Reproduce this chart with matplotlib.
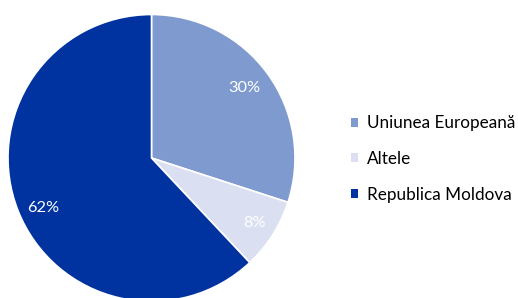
import matplotlib
matplotlib.use("Agg")
import matplotlib.pyplot as plt
import numpy as np

categories = ["Uniunea Europeană", "Altele", "Republica Moldova"]
values = [30, 8, 62]
colors = ["#7f9acf", "#dae0f1", "#0033a0"]

plt.rcParams['font.family'] = ['Lato', 'DejaVu Sans']

W, H = 518, 298
fig = plt.figure(figsize=(W / 100, H / 100), dpi=100)
cx, cy, r = 151.5, 158.0, 143.5
ax = fig.add_axes([(cx - r) / W, (H - cy - r) / H, 2 * r / W, 2 * r / H])

wedges, texts, autotexts = ax.pie(
    values, colors=colors, startangle=90, counterclock=False,
    autopct=lambda p: f"{p:.0f}%", pctdistance=0.82,
    wedgeprops=dict(edgecolor="white", linewidth=1.2),
    textprops=dict(color="white", fontsize=11.8),
)
# fine-tune label placement (radius fraction, angular offset in degrees)
label_dist = [0.81, 0.85, 0.83]
label_rot = [1.0, 0.0, 3.3]
for w, t, d, o in zip(wedges, autotexts, label_dist, label_rot):
    ang = np.deg2rad((w.theta1 + w.theta2) / 2 + o)
    t.set_position((d * np.cos(ang), d * np.sin(ang)))

ax.set_xlim(-1, 1)
ax.set_ylim(-1, 1)
ax.set_aspect("equal")
ax.axis("off")

leg = fig.legend(
    wedges, categories, loc="center left",
    bbox_to_anchor=(351 / W, (H - 159) / H),
    frameon=False, fontsize=12.3,
    handlelength=0.42, handleheight=0.42, handletextpad=0.5,
    labelspacing=1.16, borderaxespad=0, borderpad=0,
)
for h in leg.legend_handles:
    h.set_edgecolor("none")

fig.savefig("out.png", dpi=100)
